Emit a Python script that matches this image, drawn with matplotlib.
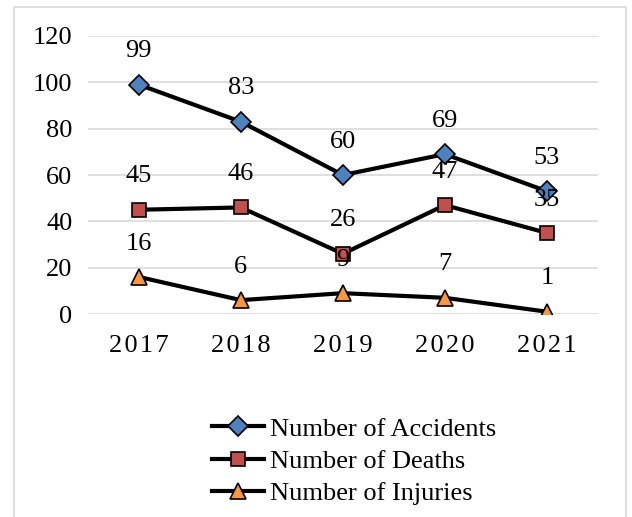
import matplotlib.pyplot as plt
from matplotlib.patches import Rectangle

years = ["2017", "2018", "2019", "2020", "2021"]
accidents = [99, 83, 60, 69, 53]
deaths = [45, 46, 26, 47, 35]
injuries = [16, 6, 9, 7, 1]

plt.rcParams['font.family'] = ['Liberation Serif', 'DejaVu Serif']

fig = plt.figure(figsize=(6.32, 5.17), dpi=100)
ax = fig.add_axes([0.139, 0.3926, 0.807, 0.5378])

# outer chart border
fig.patches.append(Rectangle((14 / 632, -0.01), 612 / 632, 1 - 7 / 517 + 0.01,
                             transform=fig.transFigure, fill=False,
                             edgecolor='#D9D9D9', linewidth=1.2))

x = range(len(years))
series = [
    (accidents, 'D', '#4F81BD', 10, "Number of Accidents"),
    (deaths, 's', '#C0504D', 10.5, "Number of Deaths"),
    (injuries, '^', '#F79646', 12, "Number of Injuries"),
]
for vals, mk, col, ms, lab in series:
    ax.plot(x, vals, color='black', linewidth=3, marker=mk, markersize=ms,
            markerfacecolor=col, markeredgecolor='black', markeredgewidth=1.2,
            label=lab, zorder=3)
    for xi, v in zip(x, vals):
        ax.annotate(str(v), (xi, v), xytext=(0, 24), textcoords='offset points',
                    ha='center', va='center', fontsize=19, zorder=4)

ax.set_xlim(-0.5, 4.5)
ax.set_ylim(0, 120)
ax.set_yticks(range(0, 121, 20))
ax.set_xticks(list(x))
ax.set_xticklabels(["\u200a".join(y) for y in years])
ax.tick_params(axis='both', length=0, labelsize=19)
ax.tick_params(axis='x', pad=15)
ax.tick_params(axis='y', pad=11)
ax.grid(axis='y', color='#D9D9D9', linewidth=1.2)
ax.set_axisbelow(True)
for s in ax.spines.values():
    s.set_visible(False)

fig.legend(loc='upper left', bbox_to_anchor=(0.335, 0.193), frameon=False,
           fontsize=19, handlelength=2.0, handletextpad=0.2, labelspacing=0.33,
           borderpad=0, borderaxespad=0)

fig.savefig("out.png", dpi=100)
